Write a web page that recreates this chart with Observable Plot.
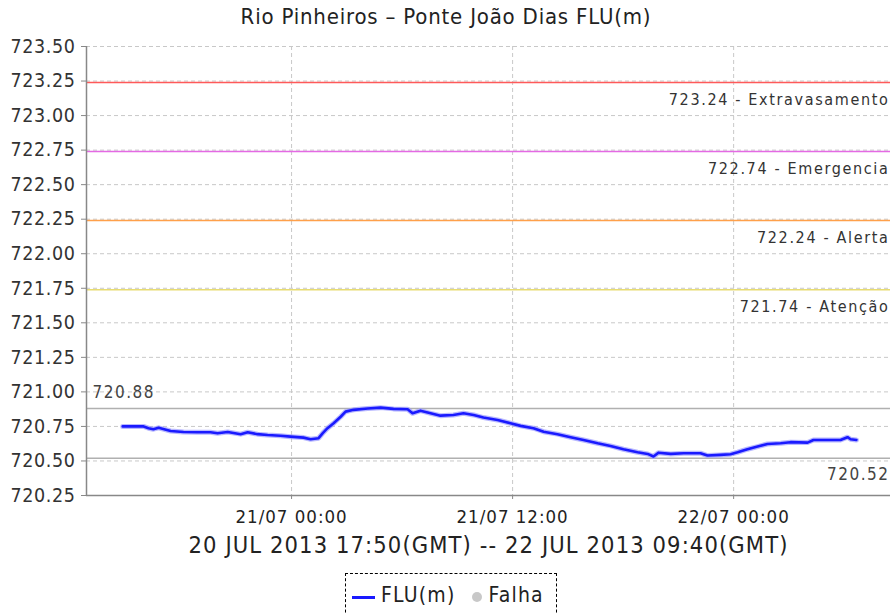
<!DOCTYPE html>
<html>
<head>
<meta charset="utf-8">
<script src="https://cdn.jsdelivr.net/npm/d3@7"></script>
<script src="https://cdn.jsdelivr.net/npm/@observablehq/plot@0.6"></script>
<style>
  html, body { margin: 0; padding: 0; background: #fff; overflow: hidden; }
  #wrap { position: relative; width: 890px; height: 613px; font-family: "DejaVu Sans Condensed", "DejaVu Sans", sans-serif; font-stretch: condensed; }
  #title { position: absolute; top: 4px; left: 0; width: 892px; text-align: center; font-size: 22px; letter-spacing: 0.8px; color: #222; }
  #chart { position: absolute; top: 0; left: 0; }
  #legend { position: absolute; top: 573px; left: 345px; width: 212px; height: 50px; border: 1px dashed #000; border-bottom: none; box-sizing: border-box; font-size: 21px; letter-spacing: 1.2px; color: #222; display: flex; align-items: flex-start; padding-top: 9px; padding-left: 6px; }
  #legend .ln { display: inline-block; width: 23px; height: 3px; background: #1a1aff; margin-top: 13px; margin-right: 6px; }
  #legend .dt { display: inline-block; width: 10px; height: 10px; border-radius: 50%; background: #c8c8c8; margin-top: 9px; margin-left: 16px; margin-right: 7px; }
  g[aria-label="y-axis tick label"] text { letter-spacing: 0.6px; }
  g[aria-label="x-axis tick label"] text { letter-spacing: 1px; }
</style>
</head>
<body>
<div id="wrap">
  <div id="chart"></div>
  <div id="title">Rio Pinheiros – Ponte João Dias FLU(m)</div>
  <div id="legend"><span class="ln"></span><span>FLU(m)</span><span class="dt"></span><span>Falha</span></div>
</div>
<script>
// ---- data (local time, GMT-3) ----
const times = [
  "2013-07-20T14:50","2013-07-20T15:58","2013-07-20T16:14","2013-07-20T16:30","2013-07-20T16:47",
  "2013-07-20T17:26","2013-07-20T18:08","2013-07-20T18:54","2013-07-20T19:36","2013-07-20T19:59",
  "2013-07-20T20:32","2013-07-20T21:14","2013-07-20T21:37","2013-07-20T22:09","2013-07-20T22:42",
  "2013-07-20T23:24","2013-07-20T23:57","2013-07-21T00:39","2013-07-21T01:02","2013-07-21T01:28",
  "2013-07-21T01:41","2013-07-21T01:57","2013-07-21T02:17","2013-07-21T02:40","2013-07-21T02:56",
  "2013-07-21T03:22","2013-07-21T04:08","2013-07-21T04:50","2013-07-21T05:32","2013-07-21T06:18",
  "2013-07-21T06:34","2013-07-21T07:00","2013-07-21T07:33","2013-07-21T08:05","2013-07-21T08:47",
  "2013-07-21T09:20","2013-07-21T09:53","2013-07-21T10:25","2013-07-21T11:11","2013-07-21T11:53",
  "2013-07-21T12:26","2013-07-21T13:08","2013-07-21T13:41","2013-07-21T14:26","2013-07-21T15:09",
  "2013-07-21T15:51","2013-07-21T16:37","2013-07-21T17:19","2013-07-21T18:01","2013-07-21T18:47",
  "2013-07-21T19:20","2013-07-21T19:39","2013-07-21T19:55","2013-07-21T20:35","2013-07-21T21:17",
  "2013-07-21T22:12","2013-07-21T22:35","2013-07-21T23:17","2013-07-21T23:50","2013-07-22T00:13",
  "2013-07-22T00:45","2013-07-22T01:18","2013-07-22T01:50","2013-07-22T02:33","2013-07-22T03:05",
  "2013-07-22T04:01","2013-07-22T04:20","2013-07-22T05:06","2013-07-22T05:48","2013-07-22T06:11",
  "2013-07-22T06:21","2013-07-22T06:40"
];
const levels = [
  720.75, 720.75, 720.737, 720.73, 720.74,
  720.717, 720.71, 720.708, 720.708, 720.70,
  720.71, 720.694, 720.708, 720.694, 720.688,
  720.683, 720.676, 720.669, 720.657, 720.665,
  720.70, 720.737, 720.773, 720.82, 720.857,
  720.87, 720.88, 720.886, 720.877, 720.874,
  720.845, 720.864, 720.845, 720.828, 720.833,
  720.845, 720.833, 720.814, 720.797, 720.773,
  720.754, 720.737, 720.712, 720.694, 720.672,
  720.652, 720.628, 720.609, 720.585, 720.563,
  720.551, 720.532, 720.56, 720.551, 720.556,
  720.556, 720.539, 720.544, 720.549, 720.563,
  720.585, 720.604, 720.623, 720.628, 720.636,
  720.633, 720.652, 720.652, 720.652, 720.672,
  720.657, 720.652
];
const thresholdValues = [723.24, 722.74, 722.24, 721.74];
const thresholdNames = ["Extravasamento", "Emergencia", "Alerta", "Atenção"];
const thresholdColors = ["#ff5a5a", "#e46ae4", "#ffa04a", "#e8dc70"];
const maxLevel = 720.88;
const minLevel = 720.52;
const yTicks = [720.25, 720.50, 720.75, 721.00, 721.25, 721.50, 721.75, 722.00, 722.25, 722.50, 722.75, 723.00, 723.25, 723.50];
const xTickStrings = ["2013-07-21T00:00", "2013-07-21T12:00", "2013-07-22T00:00"];
const xDomainStrings = ["2013-07-20T12:52", "2013-07-22T08:31"];
const subtitle = "20 JUL 2013 17:50(GMT) -- 22 JUL 2013 09:40(GMT)";

// ---- build ----
const parse = s => new Date(s + ":00Z");
const fmt2 = d3.format(".2f");
const data = times.map((t, i) => ({date: parse(t), value: levels[i]}));
const thresholds = thresholdValues.map((v, i) => ({value: v, label: fmt2(v) + " - " + thresholdNames[i], color: thresholdColors[i]}));
const xTicks = xTickStrings.map(parse);
const xDomain = xDomainStrings.map(parse);
const yDomain = [yTicks[0], yTicks[yTicks.length - 1]];

const chart = Plot.plot({
  width: 890,
  height: 570,
  marginTop: 46,
  marginBottom: 75,
  marginLeft: 86,
  marginRight: 0,
  style: {fontFamily: '"DejaVu Sans Condensed", "DejaVu Sans", sans-serif', fontStretch: "condensed", fontSize: "19px", color: "#333", overflow: "visible", background: "#fff"},
  x: {type: "utc", domain: xDomain},
  y: {domain: yDomain},
  marks: [
    Plot.gridY(yTicks, {stroke: "#c8c8c8", strokeOpacity: 1, strokeDasharray: "4,3"}),
    Plot.gridX(xTicks, {stroke: "#c8c8c8", strokeOpacity: 1, strokeDasharray: "4,3"}),
    Plot.ruleY(thresholds, {y: "value", stroke: "color", strokeWidth: 1.5}),
    Plot.text(thresholds, {y: "value", text: "label", frameAnchor: "right", textAnchor: "end", dx: -1, dy: 17, fontSize: 16, fill: "#333"}),
    Plot.ruleY([maxLevel, minLevel], {stroke: "#b0b0b0", strokeWidth: 1.5}),
    Plot.text([maxLevel], {y: d => d, text: d => fmt2(d), frameAnchor: "left", textAnchor: "start", dx: 6, dy: -16, fontSize: 17, fill: "#444"}),
    Plot.text([minLevel], {y: d => d, text: d => fmt2(d), frameAnchor: "right", textAnchor: "end", dx: -1, dy: 16, fontSize: 17, fill: "#444"}),
    Plot.line(data, {x: "date", y: "value", stroke: "#9a9aff", strokeWidth: 5, strokeOpacity: 0.7}),
    Plot.line(data, {x: "date", y: "value", stroke: "#1a1aff", strokeWidth: 2.6}),
    Plot.ruleY([yDomain[0]], {stroke: "#888", strokeWidth: 1.5}),
    Plot.ruleX([xDomain[0]], {stroke: "#888", strokeWidth: 1.5}),
    Plot.axisY(yTicks, {tickFormat: fmt2, tickSize: 5, tickPadding: 6, stroke: "#888", fill: "#333", fontSize: 19.5, label: null}),
    Plot.axisX(xTicks, {tickFormat: d3.utcFormat("%d/%m %H:%M"), tickSize: 4, tickPadding: 10, stroke: "#888", fill: "#222", fontSize: 18.5, label: null}),
    Plot.text([subtitle], {frameAnchor: "bottom", dy: 57, fontSize: 23.5, fill: "#222"})
  ]
});

// letter-spacing for the annotation texts (matched by their content)
const thresholdLabels = new Set(thresholds.map(t => t.label));
const levelLabels = new Set([fmt2(maxLevel), fmt2(minLevel)]);
d3.select(chart).selectAll("text").each(function() {
  const s = this.textContent;
  if (thresholdLabels.has(s)) this.style.letterSpacing = "1.65px";
  else if (levelLabels.has(s) && !this.closest('g[aria-label="y-axis tick label"]')) this.style.letterSpacing = "1.5px";
  else if (s === subtitle) this.style.letterSpacing = "1.1px";
});
document.getElementById("chart").appendChild(chart);
</script>
</body>
</html>
